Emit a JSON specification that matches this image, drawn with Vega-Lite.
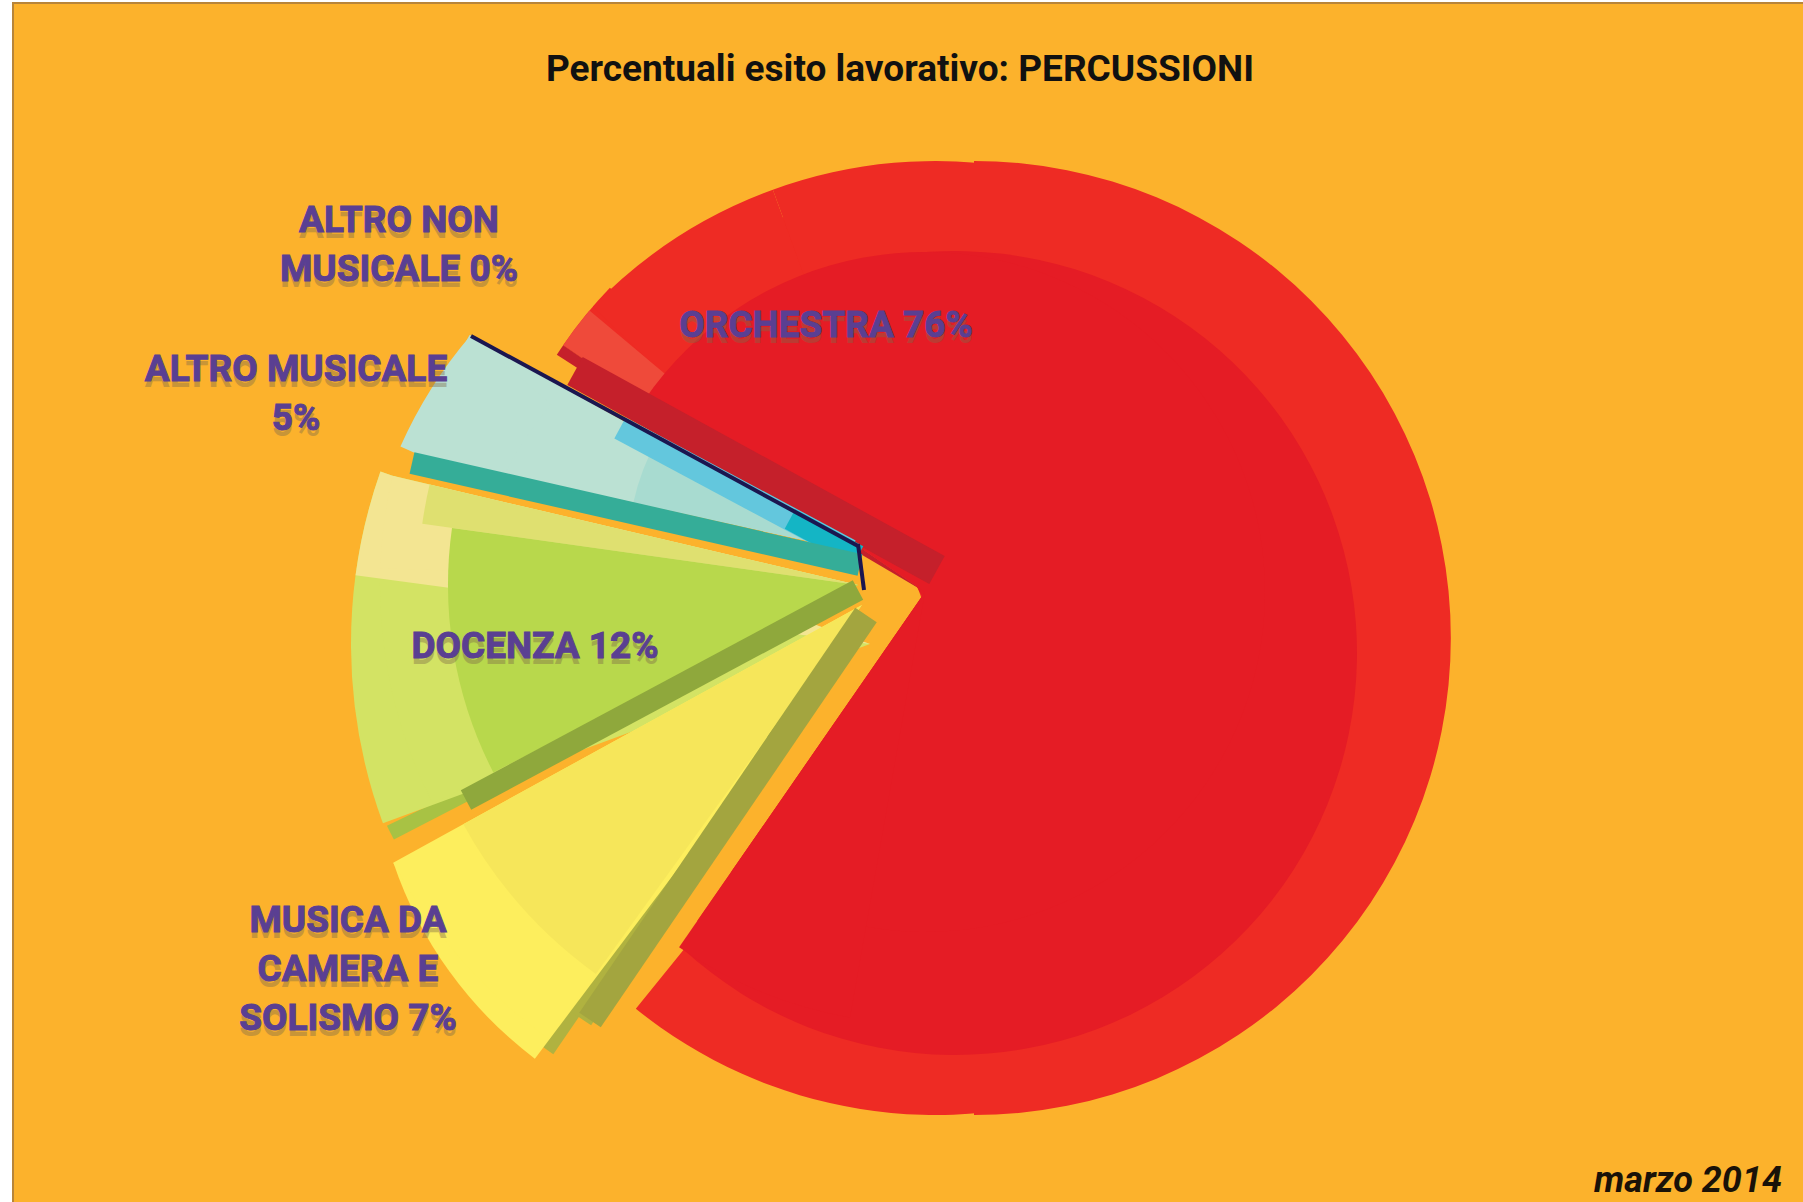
{
"$schema":"https://vega.github.io/schema/vega-lite/v6.json",
"width":1800,"height":1205,
"autosize":{"type":"none"},
"padding":{"left":13,"top":3,"right":0,"bottom":0},
"background":"#ffffff",
"view":{"fill":"#fcb22c","stroke":"#b8853a","strokeWidth":2},
"title":{"text":"Percentuali esito lavorativo: PERCUSSIONI","font":"Roboto","fontSize":37,"fontWeight":"bold","color":"#111111","anchor":"middle","frame":"group","offset":-86,"dx":-13},
"datasets":{
"faces":[
{"part":"red rim apex","slice":"ORCHESTRA","cx":925,"cy":592,"r":438,"ri":0,"start":304.3,"end":314},
{"part":"red rim apex","slice":"ORCHESTRA","cx":925,"cy":592,"r":400,"ri":0,"start":314,"end":574.7},
{"part":"red rim","slice":"ORCHESTRA","cx":936,"cy":638,"r":477,"ri":300,"start":314,"end":340},
{"part":"red rim","slice":"ORCHESTRA","cx":936,"cy":638,"r":477,"ri":0,"start":340,"end":579},
{"part":"red rim","slice":"ORCHESTRA","cx":974,"cy":638,"r":477,"ri":0,"start":0,"end":180},
{"part":"red glow","slice":"ORCHESTRA","cx":925,"cy":592,"r":438,"ri":0,"start":304.3,"end":310},
{"part":"red side","slice":"ORCHESTRA","cx":925,"cy":592,"r":400,"ri":0,"start":300.5,"end":304.3},
{"part":"red side","slice":"ORCHESTRA","cx":925,"cy":592,"r":438,"ri":0,"start":302.8,"end":304.3},
{"part":"red core","slice":"ORCHESTRA","cx":955,"cy":653,"r":402,"ri":0,"start":330,"end":582.6},
{"part":"red core apex","slice":"ORCHESTRA","cx":925,"cy":592,"r":340,"ri":0,"start":304.3,"end":574.7},
{"part":"red core apex","slice":"ORCHESTRA","cx":925,"cy":592,"r":432,"ri":0,"start":550,"end":574.7},
{"part":"blue face","slice":"ALTRO MUSICALE","cx":858,"cy":552,"r":445,"ri":0,"start":282.4,"end":299.2},
{"part":"blue face","slice":"ALTRO MUSICALE","cx":817,"cy":632,"r":456,"ri":350,"start":294,"end":310.6},
{"part":"blue core","slice":"ALTRO MUSICALE","cx":858,"cy":552,"r":230,"ri":0,"start":282.4,"end":299.2},
{"part":"green tip","slice":"DOCENZA","cx":860,"cy":598,"r":525,"ri":0,"start":242.6,"end":244.3},
{"part":"green rim","slice":"DOCENZA","cx":870,"cy":644,"r":519,"ri":0,"start":249.8,"end":289.4},
{"part":"green rim","slice":"DOCENZA","cx":858,"cy":585,"r":478,"ri":0,"start":242.8,"end":283.2},
{"part":"green glow","slice":"DOCENZA","cx":870,"cy":644,"r":519,"ri":0,"start":277.6,"end":289.4},
{"part":"green glow","slice":"DOCENZA","cx":858,"cy":585,"r":478,"ri":0,"start":272,"end":283.2},
{"part":"green strip","slice":"DOCENZA","cx":858,"cy":585,"r":440,"ri":0,"start":278,"end":283.2},
{"part":"green core","slice":"DOCENZA","cx":858,"cy":585,"r":410,"ri":0,"start":242.8,"end":278},
{"part":"yellow tip","slice":"MUSICA DA CAMERA E SOLISMO","cx":862,"cy":605,"r":545,"ri":0,"start":214.5,"end":216},
{"part":"yellow tip","slice":"MUSICA DA CAMERA E SOLISMO","cx":862,"cy":605,"r":500,"ri":0,"start":212.8,"end":216},
{"part":"yellow rim","slice":"MUSICA DA CAMERA E SOLISMO","cx":781,"cy":732,"r":409,"ri":0,"start":217,"end":251.3},
{"part":"yellow rim","slice":"MUSICA DA CAMERA E SOLISMO","cx":862,"cy":605,"r":535,"ri":0,"start":215.8,"end":241.2},
{"part":"yellow core","slice":"MUSICA DA CAMERA E SOLISMO","cx":862,"cy":605,"r":455,"ri":0,"start":215.8,"end":241.2}
],
"edges":[
{"part":"red side","x0":575,"y0":371,"x1":937,"y1":570},
{"part":"blue strip","x0":620,"y0":428,"x1":850,"y1":551},
{"part":"cyan strip","x0":790,"y0":519,"x1":858,"y1":556},
{"part":"teal side","x0":412,"y0":463,"x1":860,"y1":565},
{"part":"navy edge","x0":471,"y0":336,"x1":858,"y1":546},
{"part":"navy edge","x0":858,"y0":544,"x1":864,"y1":590},
{"part":"green side","x0":466,"y0":800,"x1":858,"y1":590},
{"part":"yellow side","x0":590,"y0":1020,"x1":866,"y1":615}
],
"labels":[
{"label":"ORCHESTRA 76%","value":76,"lx":826,"ly":326},
{"label":"ALTRO NON|MUSICALE 0%","value":0,"lx":399,"ly":221},
{"label":"ALTRO MUSICALE|5%","value":5,"lx":296,"ly":370},
{"label":"DOCENZA 12%","value":12,"lx":535,"ly":647},
{"label":"MUSICA DA|CAMERA E|SOLISMO 7%","value":7,"lx":348,"ly":921}
],
"notes":[{"label":"marzo 2014","lx":1782,"ly":1181}]
},
"layer":[
{"data":{"name":"faces"},"mark":{"type":"arc"},
"encoding":{
"x":{"field":"cx","type":"quantitative","scale":{"domain":[13,1813]},"axis":null},
"y":{"field":"cy","type":"quantitative","scale":{"domain":[3,1208],"reverse":true},"axis":null},
"theta":{"field":"start","type":"quantitative","scale":{"domain":[0,360],"range":[0,6.283185]}},
"theta2":{"field":"end"},
"radius":{"field":"r","type":"quantitative","legend":null,"scale":{"domain":[0,600],"range":[0,600]}},
"radius2":{"field":"ri"},
"color":{"field":"part","type":"nominal","legend":null,"scale":{
"domain":["red rim apex","red rim","red glow","red core","red core apex","red side","blue face","blue core","blue strip","cyan strip","navy edge","teal side","green tip","green rim","green glow","green strip","green core","green side","yellow tip","yellow rim","yellow core","yellow side"],
"range":["#ee2b24","#ee2b24","#ef4a3a","#e51c25","#e51c25","#c5202b","#bbe1d3","#a8dbd0","#63c7dd","#14b5c5","#1b1650","#35ad98","#a8c244","#d3e364","#f3e592","#dfe070","#b8d84c","#8fa83c","#b0b240","#fdee5d","#f6e65a","#a3a53f"]}}
}},
{"data":{"name":"edges"},"mark":{"type":"rule"},
"encoding":{
"x":{"field":"x0","type":"quantitative","scale":{"domain":[13,1813]},"axis":null},
"y":{"field":"y0","type":"quantitative","scale":{"domain":[3,1208],"reverse":true},"axis":null},
"x2":{"field":"x1"},"y2":{"field":"y1"},
"strokeWidth":{"field":"part","type":"nominal","legend":null,"scale":{"type":"ordinal",
"domain":["red side","blue strip","cyan strip","teal side","navy edge","green side","yellow side"],
"range":[32,24,22,22,4,22,26]}},
"color":{"field":"part","type":"nominal","legend":null,"scale":{
"domain":["red rim apex","red rim","red glow","red core","red core apex","red side","blue face","blue core","blue strip","cyan strip","navy edge","teal side","green tip","green rim","green glow","green strip","green core","green side","yellow tip","yellow rim","yellow core","yellow side"],
"range":["#ee2b24","#ee2b24","#ef4a3a","#e51c25","#e51c25","#c5202b","#bbe1d3","#a8dbd0","#63c7dd","#14b5c5","#1b1650","#35ad98","#a8c244","#d3e364","#f3e592","#dfe070","#b8d84c","#8fa83c","#b0b240","#fdee5d","#f6e65a","#a3a53f"]}}
}},
{"data":{"name":"labels"},"mark":{"type":"text","font":"Roboto","fontWeight":"bold","fontSize":37,"lineBreak":"|","lineHeight":49,"align":"center","baseline":"middle","color":"#7d6a48","opacity":0.4,"dy":6},
"encoding":{
"x":{"field":"lx","type":"quantitative","scale":{"domain":[13,1813]},"axis":null},
"y":{"field":"ly","type":"quantitative","scale":{"domain":[3,1208],"reverse":true},"axis":null},
"text":{"field":"label"}}},
{"data":{"name":"labels"},"mark":{"type":"text","font":"Roboto","fontWeight":"bold","fontSize":37,"lineBreak":"|","lineHeight":49,"align":"center","baseline":"middle","color":"#5a3f92","stroke":"#5a3f92","strokeWidth":1},
"encoding":{
"x":{"field":"lx","type":"quantitative","scale":{"domain":[13,1813]},"axis":null},
"y":{"field":"ly","type":"quantitative","scale":{"domain":[3,1208],"reverse":true},"axis":null},
"text":{"field":"label"}}},
{"data":{"name":"notes"},"mark":{"type":"text","font":"Roboto","fontWeight":"bold","fontStyle":"italic","fontSize":36,"align":"right","baseline":"middle","color":"#1a1208"},
"encoding":{
"x":{"field":"lx","type":"quantitative","scale":{"domain":[13,1813]},"axis":null},
"y":{"field":"ly","type":"quantitative","scale":{"domain":[3,1208],"reverse":true},"axis":null},
"text":{"field":"label"}}}
]
}
